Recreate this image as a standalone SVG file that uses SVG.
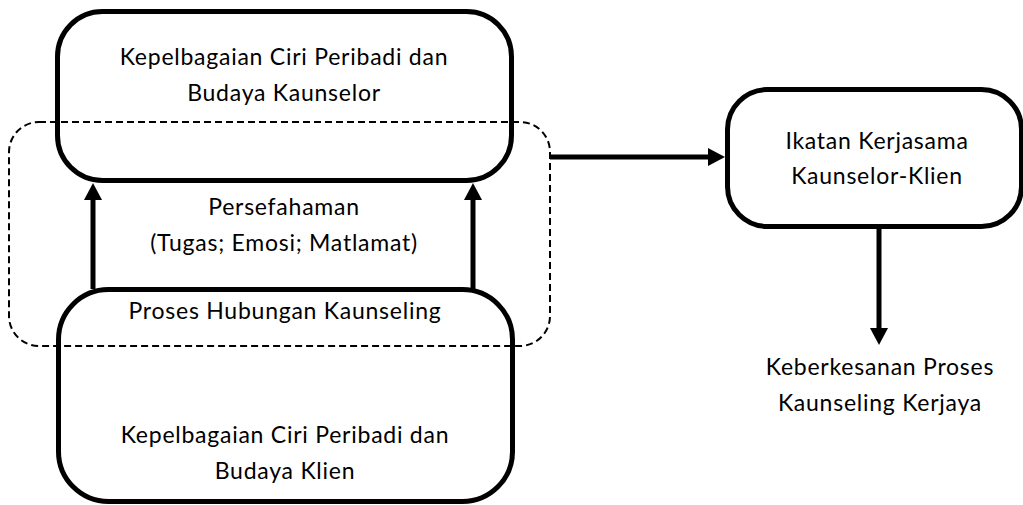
<svg xmlns="http://www.w3.org/2000/svg" width="1023" height="505" viewBox="0 0 1023 505">
<defs>
<style>
.box{fill:none;stroke:#000;stroke-width:5}
.dash{fill:none;stroke:#000;stroke-width:2;stroke-dasharray:7 4}
.conn{fill:none;stroke:#000;stroke-width:5}
text{font-family:Lato,"Open Sans","Liberation Sans",sans-serif;font-size:23px;letter-spacing:0.75px;fill:#000;text-anchor:middle}
</style>
<marker id="ah" viewBox="0 0 17 18" markerUnits="userSpaceOnUse" markerWidth="17" markerHeight="18" refX="0" refY="9" orient="auto">
<path d="M0,0 L17,9 L0,18 Z" fill="#000"/>
</marker>
</defs>
<rect width="1023" height="505" fill="#fff"/>
<g id="persefahaman">
<rect class="dash" x="9" y="122" width="541" height="224" rx="30"/>
<text x="284" y="215">Persefahaman</text>
<text x="284" y="251">(Tugas; Emosi; Matlamat)</text>
</g>
<g id="kaunselor">
<rect class="box" x="57.5" y="11.5" width="454" height="169" rx="45"/>
<text x="284" y="65">Kepelbagaian Ciri Peribadi dan</text>
<text x="284" y="101">Budaya Kaunselor</text>
</g>
<g id="klien">
<rect class="box" x="58.5" y="289.5" width="454" height="212" rx="50"/>
<text x="285" y="319">Proses Hubungan Kaunseling</text>
<text x="285" y="443">Kepelbagaian Ciri Peribadi dan</text>
<text x="285" y="479">Budaya Klien</text>
</g>
<g id="ikatan">
<rect class="box" x="727.5" y="89.5" width="294" height="137" rx="40"/>
<text x="877" y="149">Ikatan Kerjasama</text>
<text x="877" y="184">Kaunselor-Klien</text>
</g>
<g id="keberkesanan">
<text x="880" y="375">Keberkesanan Proses</text>
<text x="880" y="411">Kaunseling Kerjaya</text>
</g>
<g id="connectors">
<line class="conn" x1="93" y1="289" x2="93" y2="200" marker-end="url(#ah)"/>
<line class="conn" x1="473" y1="289" x2="473" y2="200" marker-end="url(#ah)"/>
<line class="conn" x1="550" y1="157" x2="708" y2="157" marker-end="url(#ah)"/>
<line class="conn" x1="879" y1="228" x2="879" y2="328" marker-end="url(#ah)"/>
</g>
</svg>
